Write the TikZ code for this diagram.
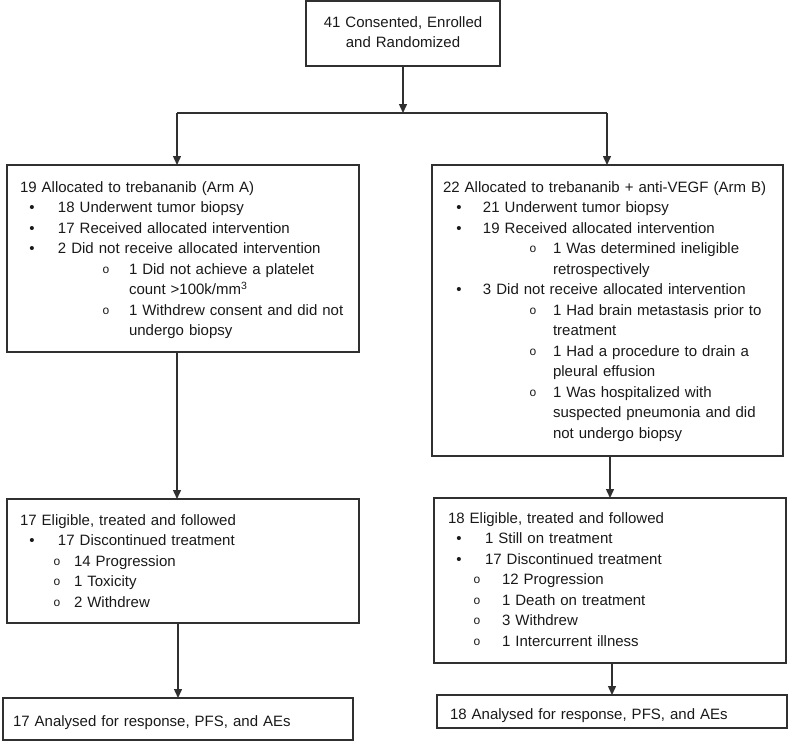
\documentclass[tikz,border=0pt]{standalone}
\usepackage{fontspec}
\setmainfont{Liberation Sans}
\newfontfamily\circfont{Liberation Mono}
\usepackage{tikz}
\usetikzlibrary{arrows.meta,positioning}

\definecolor{linegray}{HTML}{303030}
\newcommand{\hollowdot}{\raisebox{1pt}{\circfont\fontsize{12}{12}\selectfont o}}
\newcommand{\fbul}[3]{\makebox[0pt][l]{\hspace*{#1}\makebox[0pt]{\textbullet}}\hspace*{#2}\mbox{#3}}
\newcommand{\obul}[3]{\makebox[0pt][l]{\hspace*{#1}\makebox[0pt]{\hollowdot}}\hspace*{#2}\mbox{#3}}

\begin{document}
\begin{tikzpicture}[
  x=1pt, y=-1pt,
  >={Triangle[length=9pt,width=8pt]},
  box/.style={draw=linegray, line width=1.8pt, outer sep=0pt,
              inner xsep=#1, inner ysep=0pt, align=left,
              font=\fontsize{15}{20.5}\selectfont, text=black!90},
  box/.default=13pt,
  arr/.style={->, draw=linegray, line width=1.4pt},
  link/.style={draw=linegray, line width=1.4pt},
]
\useasboundingbox (0,0) rectangle (789,742);

%% ─── Enrolment ────────────────────────────────────────────────────────────────
\node[box=0pt, align=center, text width=194pt, text height=26pt, text depth=39pt,
      anchor=north west] (top) at (306,1)
  {41 Consented, Enrolled\\and Randomized};

\coordinate (split)  at (403,113);
\coordinate (splitL) at (177,113);
\coordinate (splitR) at (607,113);

%% ─── Allocation ───────────────────────────────────────────────────────────────
%% Arm A
\node[box, text width=326pt, text height=27pt, text depth=160pt,
      anchor=north west] (armA) at (7,165)
  {19 Allocated to trebananib (Arm A)\\
   \fbul{12pt}{38pt}{18 Underwent tumor biopsy}\\
   \fbul{12pt}{38pt}{17 Received allocated intervention}\\
   \fbul{12pt}{38pt}{2 Did not receive allocated intervention}\\
   \obul{86pt}{109pt}{1 Did not achieve a platelet}\\
   \hspace*{109pt}count >100k/mm\textsuperscript{3}\\
   \obul{86pt}{109pt}{1 Withdrew consent and did not}\\
   \hspace*{109pt}undergo biopsy};

%% Arm B
\node[box=11pt, text width=329pt, text height=27pt, text depth=264pt,
      anchor=north west] (armB) at (432,165)
  {22 Allocated to trebananib + anti-VEGF (Arm B)\\
   \fbul{16pt}{40pt}{21 Underwent tumor biopsy}\\
   \fbul{16pt}{40pt}{19 Received allocated intervention}\\
   \obul{90pt}{110pt}{1 Was determined ineligible}\\
   \hspace*{110pt}retrospectively\\
   \fbul{16pt}{40pt}{3 Did not receive allocated intervention}\\
   \obul{90pt}{110pt}{1 Had brain metastasis prior to}\\
   \hspace*{110pt}treatment\\
   \obul{90pt}{110pt}{1 Had a procedure to drain a}\\
   \hspace*{110pt}pleural effusion\\
   \obul{90pt}{110pt}{1 Was hospitalized with}\\
   \hspace*{110pt}suspected pneumonia and did\\
   \hspace*{110pt}not undergo biopsy};

\draw[arr]  (top.south) -- (split);
\draw[link] (splitL) -- (splitR);
\draw[arr]  (splitL) -- (splitL |- armA.north);
\draw[arr]  (splitR) -- (splitR |- armB.north);

%% ─── Follow-up ────────────────────────────────────────────────────────────────
\node[box, text width=326pt, text height=26pt, text depth=98pt,
      below=147pt of armA.south west, anchor=north west] (folA)
  {17 Eligible, treated and followed\\
   \fbul{12pt}{38pt}{17 Discontinued treatment}\\
   \obul{37pt}{54pt}{14 Progression}\\
   \obul{37pt}{54pt}{1 Toxicity}\\
   \obul{37pt}{54pt}{2 Withdrew}};

\node[box=14pt, text width=324pt, text height=25pt, text depth=140pt,
      below=42pt of armB.south west, anchor=north west, xshift=2pt] (folB)
  {18 Eligible, treated and followed\\
   \fbul{11pt}{37pt}{1 Still on treatment}\\
   \fbul{11pt}{37pt}{17 Discontinued treatment}\\
   \obul{29pt}{54pt}{12 Progression}\\
   \obul{29pt}{54pt}{1 Death on treatment}\\
   \obul{29pt}{54pt}{3 Withdrew}\\
   \obul{29pt}{54pt}{1 Intercurrent illness}};

\draw[arr] (armA.south -| splitL) -- (folA.north -| splitL);
\draw[arr] (armB.south -| folB.north) -- (folB.north);

%% ─── Analysis ─────────────────────────────────────────────────────────────────
\node[box=10pt, text width=330pt, text height=28pt, text depth=14pt,
      below=75pt of folA.south west, anchor=north west, xshift=-4pt] (anaA)
  {17 Analysed for response, PFS, and AEs};
\node[box=13pt, text width=324pt, text height=24pt, text depth=9pt,
      below=32pt of folB.south west, anchor=north west, xshift=3pt] (anaB)
  {18 Analysed for response, PFS, and AEs};

\draw[arr] (folA.south -| anaA.north) -- (anaA.north);
\draw[arr] (folB.south -| anaB.north) -- (anaB.north);

\end{tikzpicture}
\end{document}
